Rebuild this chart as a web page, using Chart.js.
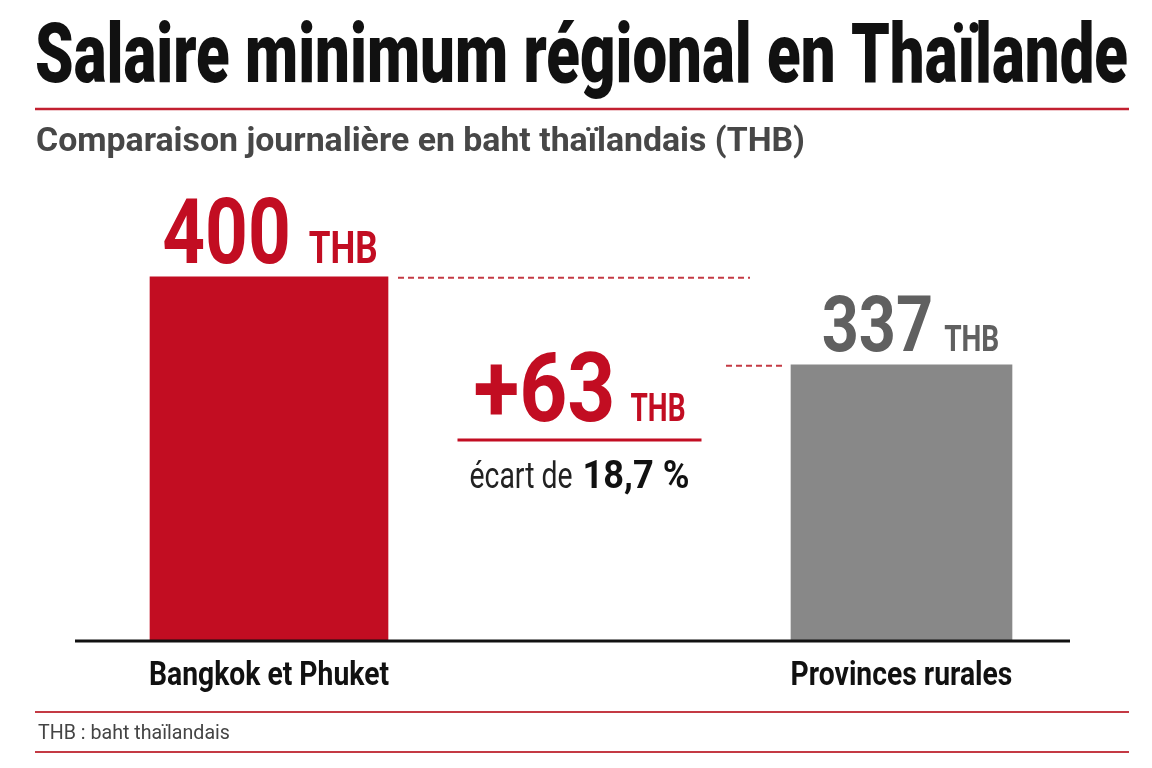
<!DOCTYPE html>
<html lang="fr">
<head>
<meta charset="utf-8">
<title>Salaire minimum régional en Thaïlande</title>
<script src="https://cdn.jsdelivr.net/npm/chart.js@4.4.1/dist/chart.umd.min.js"></script>
<style>
  html, body { margin: 0; padding: 0; background: #fff; }
  #wrap { width: 1152px; height: 768px; }
</style>
</head>
<body>
<div id="wrap"><canvas id="chart" width="1152" height="768"></canvas></div>
<script>
// data
const categories = ['Bangkok et Phuket', 'Provinces rurales'];
const wages = [400, 337];
const unit = 'THB';
const yMin = 140;
const yMax = 480;

const title = 'Salaire minimum régional en Thaïlande';
const subtitle = 'Comparaison journalière en baht thaïlandais (THB)';
const note = 'THB : baht thaïlandais';

// styles
const RED = '#c20d22';
const barColors = [RED, '#888888'];
const labelColors = [RED, '#606060'];
const barWidths = [238, 221];
const numSizes = [90, 78];
const unitSizes = [45, 36];
const unitGaps = [18, 11];
const labelShift = [1, 9];
const FONT = 'Roboto, "Liberation Sans", Arial, sans-serif';

const gap = wages[0] - wages[1];
const gapPct = (gap / wages[1] * 100).toFixed(1).replace('.', ',') + ' %';

function setFont(ctx, size, weight) {
    ctx.font = (weight || 'bold') + ' ' + size + 'px ' + FONT;
}

// draws text squeezed horizontally (sx) or fitted to a width
function drawText(ctx, str, x, y, o) {
    ctx.save();
    setFont(ctx, o.size, o.weight);
    ctx.fillStyle = o.color;
    ctx.textAlign = 'left';
    ctx.textBaseline = 'alphabetic';
    const w = ctx.measureText(str).width;
    const sx = o.width ? o.width / w : (o.sx || 1);
    let left = x;
    if (o.align === 'center') left = x - w * sx / 2;
    if (o.align === 'right') left = x - w * sx;
    ctx.translate(left, y);
    ctx.scale(sx, 1);
    ctx.fillText(str, 0, 0);
    ctx.restore();
    return w * sx;
}

function textWidth(ctx, str, size, weight, sx) {
    setFont(ctx, size, weight);
    return ctx.measureText(str).width * (sx || 1);
}

function hline(ctx, x1, x2, y, width, color, dash) {
    ctx.save();
    ctx.strokeStyle = color;
    ctx.lineWidth = width;
    ctx.setLineDash(dash || []);
    ctx.beginPath();
    ctx.moveTo(x1, y);
    ctx.lineTo(x2, y);
    ctx.stroke();
    ctx.restore();
}

const decor = {
    id: 'decor',
    beforeDraw(chart) {
        const ctx = chart.ctx;
        ctx.save();
        ctx.fillStyle = '#fff';
        ctx.fillRect(0, 0, chart.width, chart.height);
        ctx.restore();

        drawText(ctx, title, 35, 82, { size: 84, weight: '900', color: '#111', width: 1093 });
        hline(ctx, 35, 1129, 109, 2.5, '#c22030');
        drawText(ctx, subtitle, 36, 151, { size: 33, color: '#474747', width: 769 });

        hline(ctx, 35, 1129, 712, 2, '#c43a44');
        drawText(ctx, note, 38, 739, { size: 20, weight: 'normal', color: '#444', width: 192 });
        hline(ctx, 35, 1129, 752, 2, '#c43a44');
    },
    afterDatasetsDraw(chart) {
        const ctx = chart.ctx;
        const area = chart.chartArea;
        const xs = chart.scales.x;
        const bars = wages.map((v, i) => chart.getDatasetMeta(i).data[i]);

        // baseline
        hline(ctx, 75, 1070, area.bottom + 1, 3, '#111');

        // value labels above bars
        bars.forEach((b, i) => {
            const numStr = String(wages[i]);
            const wn = textWidth(ctx, numStr, numSizes[i], 'bold', 0.83);
            const wu = textWidth(ctx, unit, unitSizes[i], 'bold', 0.78);
            const left = b.x + labelShift[i] - (wn + unitGaps[i] + wu) / 2;
            const y = b.y - 14;
            drawText(ctx, numStr, left, y, { size: numSizes[i], color: labelColors[i], sx: 0.83 });
            drawText(ctx, unit, left + wn + unitGaps[i], y, { size: unitSizes[i], color: labelColors[i], sx: 0.78 });
        });

        // dashed guides
        const r0 = bars[0].x + bars[0].width / 2;
        const l1 = bars[1].x - bars[1].width / 2;
        hline(ctx, r0 + 10, l1 - 41, bars[0].y + 1, 2, '#c43a44', [6, 4]);
        hline(ctx, l1 - 65, l1 - 9, bars[1].y + 1, 2, '#c43a44', [6, 4]);

        // difference block
        const cx = (r0 + l1) / 2 - 10;
        const gapStr = '+' + gap;
        const wg = 142, wgu = 55, gg = 15;
        let left = cx - (wg + gg + wgu) / 2;
        drawText(ctx, gapStr, left, 421, { size: 96, color: RED, width: wg });
        drawText(ctx, unit, left + wg + gg, 421, { size: 38, color: RED, width: wgu });
        hline(ctx, cx - 122, cx + 122, 440, 3, RED);
        const we = 103, wp = 107, gp = 10;
        left = cx - (we + gp + wp) / 2;
        drawText(ctx, 'écart de', left, 488, { size: 36, weight: 'normal', color: '#222', width: we });
        drawText(ctx, gapPct, left + we + gp, 488, { size: 39, color: '#111', width: wp });

        // category labels
        const sxCat = 240 / textWidth(ctx, categories[0], 34, 'bold');
        categories.forEach((c, i) => {
            drawText(ctx, c, xs.getPixelForValue(i), 685, { size: 34, color: '#111', sx: sxCat, align: 'center' });
        });
    }
};

const ctx = document.getElementById('chart').getContext('2d');
new Chart(ctx, {
    type: 'bar',
    data: {
        labels: categories,
        datasets: wages.map((v, i) => ({
            label: categories[i],
            data: wages.map((w, j) => (j === i ? w : null)),
            backgroundColor: barColors[i],
            barThickness: barWidths[i],
            base: yMin,
            borderWidth: 0,
            grouped: false,
            clip: false
        }))
    },
    options: {
        responsive: false,
        animation: false,
        layout: { padding: { left: 269, right: 250.5, top: 165, bottom: 128 } },
        scales: {
            x: { display: false, offset: false },
            y: { display: false, min: yMin, max: yMax }
        },
        plugins: {
            legend: { display: false },
            tooltip: { enabled: false }
        }
    },
    plugins: [decor]
});
</script>
</body>
</html>
